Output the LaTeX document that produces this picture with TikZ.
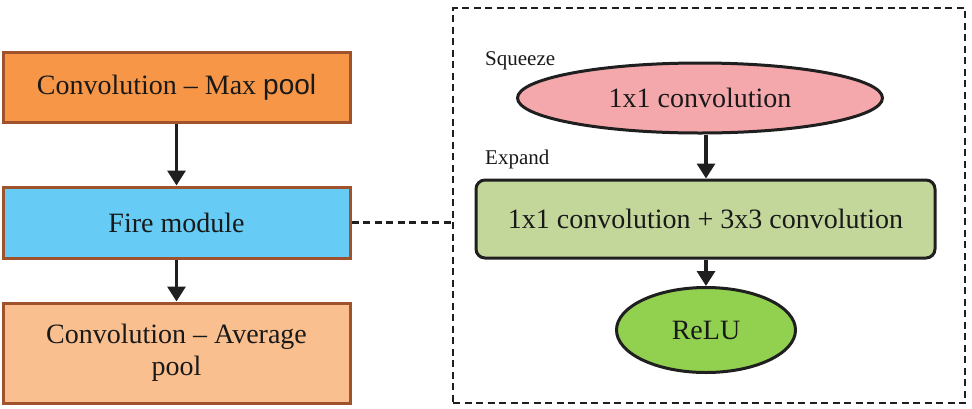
\documentclass[tikz,border=0pt]{standalone}
\usepackage{fontspec}
\setmainfont{Liberation Serif}
\newfontfamily\arialf{Liberation Sans}
\usetikzlibrary{shapes.geometric,arrows.meta}
\definecolor{orA}{RGB}{247,150,70}
\definecolor{orB}{RGB}{250,191,143}
\definecolor{blA}{RGB}{102,204,245}
\definecolor{brd}{RGB}{160,82,45}
\definecolor{pk}{RGB}{245,168,172}
\definecolor{lg}{RGB}{196,215,155}
\definecolor{gr}{RGB}{146,208,80}
\definecolor{txt}{RGB}{25,25,25}
\tikzset{
  lbox/.style={draw=brd, line width=3pt, rectangle, minimum width=347pt, inner sep=0pt, align=center, font=\fontsize{28}{32}\selectfont, text=txt},
  ebox/.style={draw=black!88, line width=3pt, align=center, inner sep=0pt, font=\fontsize{28}{32}\selectfont, text=txt},
  arr/.style={draw=black!88, line width=3.3pt, -{Triangle[length=15pt,width=18pt]}},
  lab/.style={font=\fontsize{21}{24}\selectfont, text=txt, inner sep=0pt},
  dsh/.style={draw=black!88, line width=2.2pt, dash pattern=on 7pt off 4.5pt},
}
\begin{document}
\begin{tikzpicture}[x=1pt,y=-1pt]
\useasboundingbox (0,0) rectangle (972,408);
\node[lbox, fill=orA, minimum height=70pt] (b1) at (176.5,87) {Convolution -- Max {\arialf pool}};
\node[lbox, fill=blA, minimum height=71pt] (b2) at (176.5,222.5) {Fire module};
\node[lbox, fill=orB, minimum height=100pt] (b3) at (176.5,353) {Convolution -- Average\\pool};
\node[dsh, minimum width=512pt, minimum height=395pt, inner sep=0pt] (fr) at (709,205.5) {};
\node[ebox, ellipse, fill=pk, minimum width=365pt, minimum height=70pt] (sq) at (700,98) {1x1 convolution};
\node[ebox, rectangle, rounded corners=9pt, fill=lg, minimum width=459pt, minimum height=78pt] (ex) at (705.5,219) {1x1 convolution + 3x3 convolution};
\node[ebox, ellipse, fill=gr, minimum width=179pt, minimum height=85pt] (re) at (706,330) {ReLU};
\node[lab, anchor=base west] (sql) at (485,65) {Squeeze};
\node[lab, anchor=base west] (exl) at (485,164) {Expand};
\draw[arr] (b1) -- (b2);
\draw[arr] (b2) -- (b3);
\draw[arr] (sq.south -| re.north) -- (re.north |- ex.north);
\draw[arr] (re.north |- ex.south) -- (re.north);
\draw[dsh] (b2.east) -- (b2.east -| fr.west);
\end{tikzpicture}
\end{document}
